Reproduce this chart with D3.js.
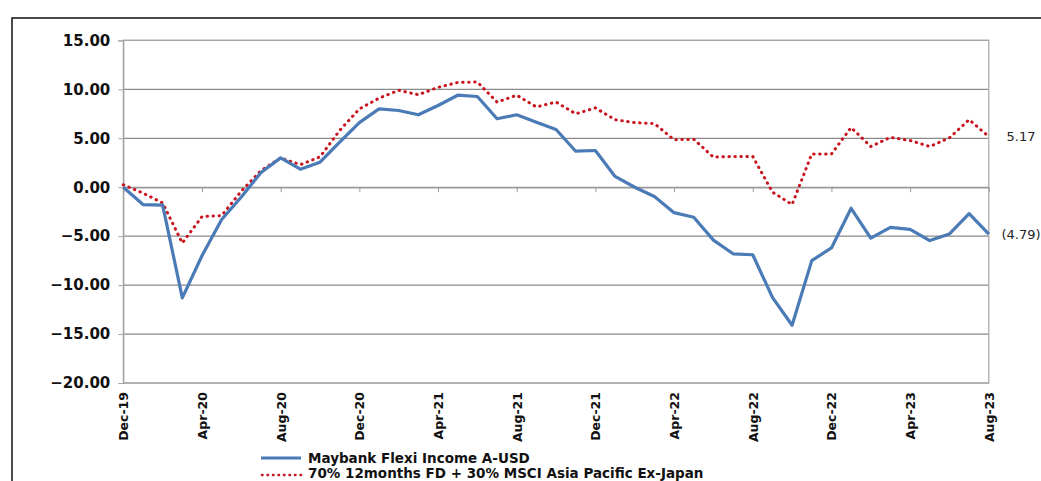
<!DOCTYPE html>
<html lang="en">
<head>
    <meta charset="UTF-8">
    <title>Maybank Flexi Income A-USD</title>
    <script src="https://d3js.org/d3.v7.min.js"></script>
    <style>
        body { margin: 0; background: #fff; }
        svg { display: block; }
        .ylab text { font: bold 15px "DejaVu Sans", sans-serif; fill: #111; }
        .xlab text { font: bold 12.5px "DejaVu Sans", sans-serif; fill: #111; }
        .legend text { font: bold 13.5px "DejaVu Sans", sans-serif; fill: #111; }
        .endlab { font: 13px "DejaVu Sans", sans-serif; fill: #222; }
    </style>
</head>
<body>
    <svg width="1041" height="481"></svg>
    <script>
        var months = ["Dec-19","Jan-20","Feb-20","Mar-20","Apr-20","May-20","Jun-20","Jul-20","Aug-20","Sep-20","Oct-20","Nov-20",
            "Dec-20","Jan-21","Feb-21","Mar-21","Apr-21","May-21","Jun-21","Jul-21","Aug-21","Sep-21","Oct-21","Nov-21",
            "Dec-21","Jan-22","Feb-22","Mar-22","Apr-22","May-22","Jun-22","Jul-22","Aug-22","Sep-22","Oct-22","Nov-22",
            "Dec-22","Jan-23","Feb-23","Mar-23","Apr-23","May-23","Jun-23","Jul-23","Aug-23"];

        var tickLabels = ["Dec-19","Apr-20","Aug-20","Dec-20","Apr-21","Aug-21","Dec-21","Apr-22","Aug-22","Dec-22","Apr-23","Aug-23"];

        var yTicks = [15, 10, 5, 0, -5, -10, -15, -20];

        var fund = [0, -1.77, -1.83, -11.3, -7.0, -3.3, -1.0, 1.5, 3.0, 1.84, 2.56, 4.6,
            6.6, 8.0, 7.84, 7.4, 8.35, 9.4, 9.27, 7.0, 7.4, 6.65, 5.9, 3.68,
            3.75, 1.1, 0.0, -0.95, -2.6, -3.07, -5.4, -6.8, -6.9, -11.25, -14.1, -7.5,
            -6.2, -2.15, -5.2, -4.1, -4.3, -5.45, -4.77, -2.7, -4.79];

        var bench = [0.25, -0.6, -1.6, -5.7, -3.0, -2.9, -0.4, 1.7, 3.0, 2.3, 3.1, 5.8,
            8.0, 9.1, 9.9, 9.45, 10.2, 10.7, 10.75, 8.7, 9.4, 8.2, 8.7, 7.5,
            8.1, 6.9, 6.6, 6.5, 4.85, 4.9, 3.07, 3.14, 3.14, -0.5, -1.77, 3.4,
            3.4, 6.1, 4.16, 5.1, 4.77, 4.16, 5.05, 6.9, 5.17];

        var seriesNames = ["Maybank Flexi Income A-USD", "70% 12months FD + 30% MSCI Asia Pacific Ex-Japan"];
        var endLabels = ["(4.79)", "5.17"];

        var svg = d3.select("svg");
        // plot box (note: "top" is reserved on window, so use px* names)
        var pxLeft = 123.3, pxRight = 988.8, pxTop = 40.4, pxBottom = 383;

        var x = d3.scalePoint().domain(months).range([pxLeft, pxRight]);
        var y = d3.scaleLinear().domain([-20, 15]).range([pxBottom, pxTop]);

        // outer frame
        svg.append("path")
            .attr("d", "M12,481 L12,18 L1041,18")
            .attr("fill", "none")
            .attr("stroke", "#111")
            .attr("stroke-width", 1.5);

        // gridlines
        svg.append("g")
            .selectAll("line")
            .data(yTicks)
            .enter()
            .append("line")
            .attr("x1", pxLeft).attr("x2", pxRight)
            .attr("y1", d => y(d)).attr("y2", d => y(d))
            .attr("stroke", "#8a8a8a")
            .attr("stroke-width", 1.2);

        // plot border
        svg.append("rect")
            .attr("x", pxLeft).attr("y", pxTop)
            .attr("width", pxRight - pxLeft).attr("height", pxBottom - pxTop)
            .attr("fill", "none")
            .attr("stroke", "#a6a6a6")
            .attr("stroke-width", 1.2);

        // y axis
        var yAxis = svg.append("g")
            .attr("class", "ylab")
            .attr("transform", "translate(" + pxLeft + ",0)")
            .call(d3.axisLeft(y).tickValues(yTicks).tickSize(5).tickPadding(8).tickFormat(d3.format(".2f")));
        yAxis.select(".domain").attr("stroke", "#a6a6a6").attr("stroke-width", 1.2);
        yAxis.selectAll(".tick line").attr("stroke", "#a6a6a6");

        // x axis line at zero with small ticks
        var zeroAxis = svg.append("g")
            .attr("transform", "translate(0," + y(0) + ")")
            .call(d3.axisBottom(x).tickValues(tickLabels).tickSize(5).tickSizeOuter(0).tickFormat(""));
        zeroAxis.select(".domain").attr("stroke", "#9a9a9a").attr("stroke-width", 1.5);
        zeroAxis.selectAll(".tick line").attr("stroke", "#9a9a9a");

        // x labels at bottom
        var xAxis = svg.append("g")
            .attr("class", "xlab")
            .attr("transform", "translate(0," + pxBottom + ")")
            .call(d3.axisBottom(x).tickValues(tickLabels).tickSize(0));
        xAxis.select(".domain").remove();
        xAxis.selectAll("text")
            .attr("transform", "rotate(-90)")
            .attr("text-anchor", "end")
            .attr("x", -9)
            .attr("y", 0)
            .attr("dy", "0.35em");

        var line = d3.line()
            .x((d, i) => x(months[i]))
            .y(d => y(d));

        svg.append("path")
            .datum(bench)
            .attr("d", line)
            .attr("fill", "none")
            .attr("stroke", "#c8141e")
            .attr("stroke-width", 3)
            .attr("stroke-linecap", "round")
            .attr("stroke-dasharray", "0.5,5.5");

        svg.append("path")
            .datum(fund)
            .attr("d", line)
            .attr("fill", "none")
            .attr("stroke", "#4a7bb6")
            .attr("stroke-width", 3.2)
            .attr("stroke-linejoin", "round");

        // end labels
        svg.append("text").attr("class", "endlab")
            .attr("x", 1021).attr("y", y(fund[fund.length - 1]))
            .attr("dy", "0.35em").attr("text-anchor", "middle")
            .text(endLabels[0]);
        svg.append("text").attr("class", "endlab")
            .attr("x", 1021).attr("y", y(bench[bench.length - 1]))
            .attr("dy", "0.35em").attr("text-anchor", "middle")
            .text(endLabels[1]);

        // legend
        var legend = svg.append("g").attr("class", "legend");
        legend.append("line")
            .attr("x1", 261).attr("x2", 301).attr("y1", 458).attr("y2", 458)
            .attr("stroke", "#4a7bb6").attr("stroke-width", 3.2);
        legend.append("line")
            .attr("x1", 262).attr("x2", 301).attr("y1", 475).attr("y2", 475)
            .attr("stroke", "#c8141e").attr("stroke-width", 2.5)
            .attr("stroke-linecap", "round")
            .attr("stroke-dasharray", "0.5,5");
        legend.append("text").attr("x", 308).attr("y", 463).text(seriesNames[0]);
        legend.append("text").attr("x", 308).attr("y", 478).text(seriesNames[1]);
    </script>
</body>
</html>
